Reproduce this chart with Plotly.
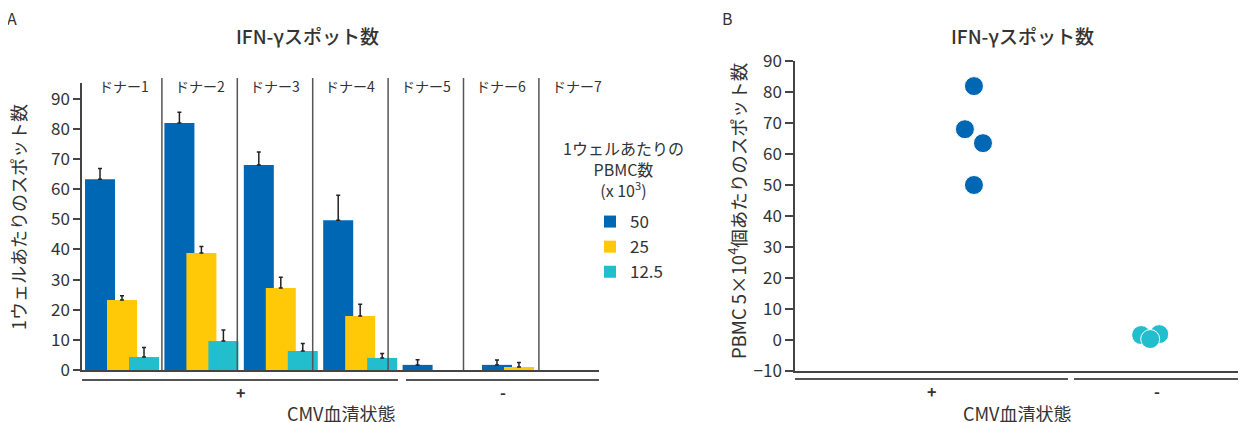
import plotly.graph_objects as go

# page pixel size (window) and the 8px page body margin the figure sits in
PAGE_W, PAGE_H = 1246, 422
OFF = 8
W, H = PAGE_W - OFF, PAGE_H - OFF
FONT = "Noto Sans CJK JP"
TXT = "#333333"
AX = "#444444"

# ---------------- data: panel A ----------------
donors = ["ドナー1", "ドナー2", "ドナー3", "ドナー4", "ドナー5", "ドナー6", "ドナー7"]
dose_names = ["50", "25", "12.5"]
dose_colors = ["#0067B4", "#FFC907", "#22BECE"]
spots_50 = [63.3, 81.9, 68.0, 49.7, 1.7, 1.7, None]
err_50 = [3.5, 3.6, 4.3, 8.3, 1.7, 1.6, None]
spots_25 = [23.2, 38.8, 27.2, 17.9, None, 1.0, None]
err_25 = [1.4, 2.2, 3.6, 3.9, None, 1.5, None]
spots_12 = [4.3, 9.6, 6.3, 4.0, None, None, None]
err_12 = [3.2, 3.7, 2.5, 1.5, None, None, None]
a_yticks = [0, 10, 20, 30, 40, 50, 60, 70, 80, 90]

# ---------------- data: panel B ----------------
status_labels = ["+", "-"]
b_status = ["+", "+", "+", "+", "-", "-", "-"]
b_jitter = [0.19, 0.15, 0.23, 0.19, -0.07, 0.01, -0.03]
b_spots = [81.9, 68.0, 63.5, 50.0, 1.6, 1.9, 0.3]
b_yticks = [-10, 0, 10, 20, 30, 40, 50, 60, 70, 80, 90]


def px(x):
    return (x - OFF) / W


def py(y):
    return 1 - (y - OFF) / H


fig = go.Figure()

# ---- panel A bars ----
bar_width = 0.378
offsets = [-0.466, -0.189, 0.088]
series = [(spots_50, err_50), (spots_25, err_25), (spots_12, err_12)]
for (vals, errs), name, col, off in zip(series, dose_names, dose_colors, offsets):
    fig.add_trace(go.Bar(
        x=list(range(len(donors))), y=vals, name=name,
        marker=dict(color=col, line=dict(width=0)),
        width=bar_width, offset=off, opacity=1,
        error_y=dict(type="data", symmetric=False, array=errs,
                     arrayminus=[0 if e is not None else None for e in errs],
                     color="#222222", thickness=1.5, width=2),
        xaxis="x", yaxis="y", showlegend=True,
    ))

# ---- panel B points ----
spos = {s: i for i, s in enumerate(status_labels)}
b_x = [spos[s] + j for s, j in zip(b_status, b_jitter)]
b_col = [dose_colors[0] if s == "+" else dose_colors[2] for s in b_status]
fig.add_trace(go.Scatter(
    x=b_x, y=b_spots, mode="markers",
    marker=dict(size=19, color=b_col, line=dict(color="white", width=1)),
    xaxis="x2", yaxis="y2", showlegend=False,
))

tickfont = dict(family=FONT, size=17, color=TXT)

fig.update_layout(
    width=W, height=H,
    margin=dict(l=0, r=0, t=0, b=0, autoexpand=False),
    paper_bgcolor="white", plot_bgcolor="white",
    barmode="overlay",
    font=dict(family=FONT, color=TXT),
    xaxis=dict(domain=[px(82), px(599)], range=[-0.504, 6.008],
               showline=True, linecolor=AX, linewidth=1.5, automargin=False,
               showticklabels=False, ticks="", showgrid=False, zeroline=False,
               fixedrange=True),
    yaxis=dict(domain=[py(370), py(82.7)], range=[0, 95.3],
               showline=True, linecolor=AX, linewidth=1.5, automargin=False,
               tickvals=a_yticks, ticks="outside", ticklen=7, tickcolor=AX,
               tickwidth=1.5, tickfont=tickfont, showgrid=False, zeroline=False,
               anchor="x"),
    xaxis2=dict(domain=[px(795), 1], range=[-0.602, 1.394],
                showline=True, linecolor=AX, linewidth=1.5, automargin=False,
                showticklabels=False, ticks="", showgrid=False, zeroline=False,
                anchor="y2"),
    yaxis2=dict(domain=[py(371), py(61)], range=[-10, 90],
                showline=True, linecolor=AX, linewidth=1.5, automargin=False,
                tickvals=b_yticks, ticks="outside", ticklen=8, tickcolor=AX,
                tickwidth=1.5, tickfont=tickfont, showgrid=False, zeroline=False,
                anchor="x2"),
    legend=dict(x=px(590), y=py(204), xanchor="left", yanchor="top",
                font=dict(family=FONT, size=17, color=TXT),
                bgcolor="rgba(0,0,0,0)", itemwidth=30, tracegroupgap=0),
)

shapes = []
annotations = []

# donor separators and labels
sep_start, sep_step = 86.5, 75.4
for k in range(1, len(donors)):
    xk = sep_start + sep_step * k
    shapes.append(dict(type="line", xref="paper", yref="paper",
                       x0=px(xk), x1=px(xk), y0=py(78), y1=py(370),
                       line=dict(color="#555555", width=1.5)))
for k, d in enumerate(donors):
    annotations.append(dict(text=d, xref="paper", yref="paper",
                            x=px(sep_start + sep_step * (k + 0.5)), y=py(86),
                            xanchor="center", yanchor="middle", showarrow=False,
                            font=dict(family=FONT, size=14, color=TXT)))

# group underlines
for (x0, x1, yy) in [(82, 398, 380), (406, 599, 380), (795, 1068, 379), (1074, 1246, 379)]:
    shapes.append(dict(type="line", xref="paper", yref="paper",
                       x0=px(x0), x1=px(x1), y0=py(yy), y1=py(yy),
                       line=dict(color="#555555", width=2)))

for txt, xx, yy in [("+", 240, 392), ("-", 503, 392), ("+", 931, 391), ("-", 1157, 391)]:
    annotations.append(dict(text="<b>%s</b>" % txt, xref="paper", yref="paper",
                            x=px(xx), y=py(yy), xanchor="center", yanchor="middle",
                            showarrow=False, font=dict(family=FONT, size=16, color=TXT)))

# axis titles
for xx in [341, 1017]:
    annotations.append(dict(text="CMV血清状態", xref="paper", yref="paper",
                            x=px(xx), y=py(413), xanchor="center", yanchor="middle",
                            showarrow=False, font=dict(family=FONT, size=18, color=TXT)))
annotations.append(dict(text="1ウェルあたりのスポット数", xref="paper", yref="paper",
                        x=px(18), y=py(217), xanchor="center", yanchor="middle",
                        textangle=-90, showarrow=False,
                        font=dict(family=FONT, size=18, color=TXT)))
annotations.append(dict(text="PBMC 5×10<sup>4</sup>個あたりのスポット数", xref="paper", yref="paper",
                        x=px(737), y=py(211), xanchor="center", yanchor="middle",
                        textangle=-90, showarrow=False,
                        font=dict(family=FONT, size=18.5, color=TXT)))

# titles
for xx in [307, 1022]:
    annotations.append(dict(text="IFN-γスポット数", xref="paper", yref="paper",
                            x=px(xx), y=py(36), xanchor="center", yanchor="middle",
                            showarrow=False,
                            font=dict(family=FONT, size=19, color=TXT, weight=500)))
for txt, xx in [("A", 12), ("B", 727)]:
    annotations.append(dict(text=txt, xref="paper", yref="paper",
                            x=px(xx), y=py(18), xanchor="center", yanchor="middle",
                            showarrow=False, font=dict(family=FONT, size=16, color=TXT)))

# legend title
annotations.append(dict(text="1ウェルあたりの<br>PBMC数<br>(x 10<sup>3</sup>)", xref="paper", yref="paper",
                        x=px(623), y=py(169), xanchor="center", yanchor="middle",
                        align="center", showarrow=False,
                        font=dict(family=FONT, size=16, color=TXT)))

fig.update_layout(shapes=shapes, annotations=annotations)
fig.write_html("out.html")
